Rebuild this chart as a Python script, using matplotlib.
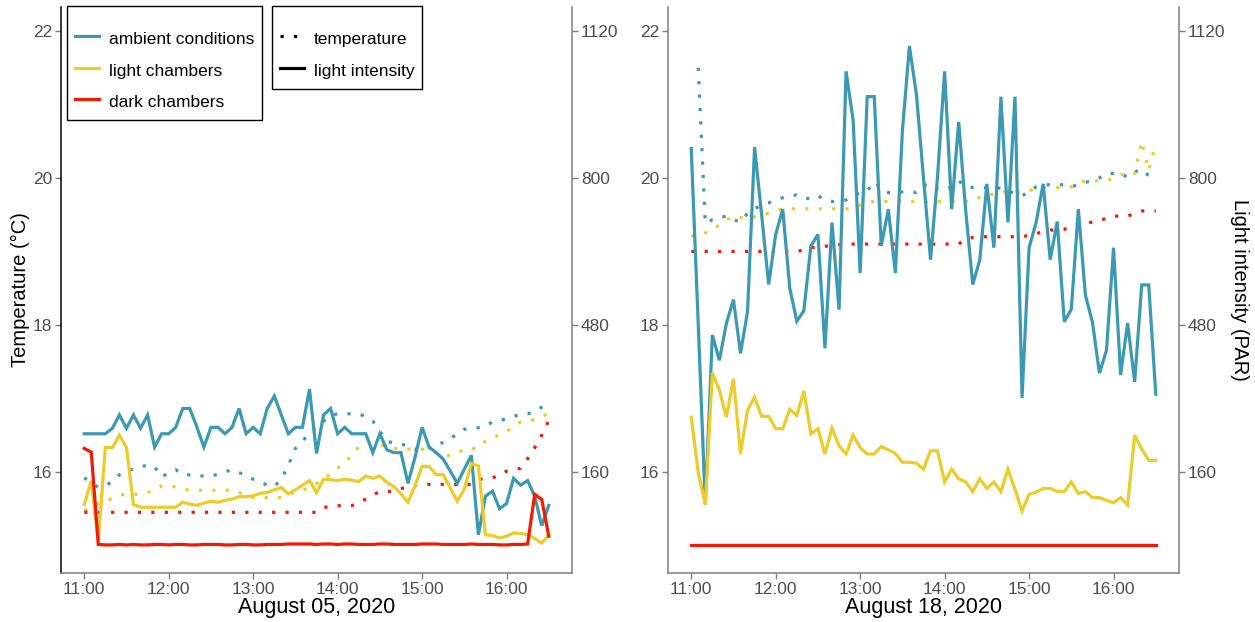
#!/usr/bin/env python3
"""
plot.py -- chamber temperature (dotted) and light intensity (solid)
for two field days, one panel per day, with a secondary PAR axis.
"""

import numpy as np
import pandas as pd
import matplotlib
matplotlib.use('Agg')
import matplotlib.pyplot as plt
import matplotlib.dates as mdates
from matplotlib.lines import Line2D

# -- visual theme -------------------------------------------------------------
AMBIENT_C  = '#3B9AB2'   # teal
LIGHT_C    = '#EBCC2A'   # yellow
DARK_C     = '#F21A00'   # red
AXIS_GREY  = '#7F7F7F'
TICK_TEXT  = '#4D4D4D'
DOTTED     = (0, (1, 3.2))
LW         = 2.3
W, H       = 1255, 622
# -----------------------------------------------------------------------------

plt.rcParams['font.family'] = ['Liberation Sans', 'DejaVu Sans']

# -- data ---------------------------------------------------------------------
DAY1 = "2020-08-05"
DAY2 = "2020-08-18"
START, END, STEP = "11:00", "16:30", "5min"

SERIES = ["ambient conditions", "light chambers", "dark chambers"]

# August 05 -- light intensity (PAR)
d1_par_ambient = [243, 243, 243, 243, 255, 284, 255, 284, 255, 284,
                  214, 243, 243, 257, 298, 298, 258, 214, 257, 257,
                  243, 257, 298, 243, 257, 243, 298, 325, 284, 243,
                  257, 257, 340, 200, 284, 298, 243, 257, 243, 243,
                  243, 202, 243, 208, 202, 202, 135, 192, 257, 214,
                  202, 188, 162, 135, 166, 196, 23, 107, 118, 80,
                  91, 146, 131, 141, 107, 43, 87]
d1_par_light = [89, 140, 10, 213, 213, 240, 213, 89, 83, 83,
                83, 83, 83, 83, 94, 90, 87, 92, 96, 94,
                98, 101, 106, 106, 108, 113, 115, 121, 126, 112,
                121, 131, 141, 115, 144, 143, 141, 144, 142, 139,
                151, 146, 151, 137, 128, 112, 94, 130, 172, 172,
                154, 154, 125, 96, 123, 178, 173, 23, 21, 16,
                20, 27, 26, 23, 15, 5, 23]
d1_par_dark = [211, 203, 2, 1, 1, 2, 1, 2, 1, 1,
               2, 2, 1, 2, 2, 1, 1, 2, 2, 2,
               1, 1, 2, 2, 1, 1, 2, 2, 2, 3,
               3, 3, 3, 2, 3, 3, 2, 3, 3, 2,
               2, 2, 3, 3, 2, 2, 2, 2, 3, 3,
               3, 2, 2, 2, 2, 3, 2, 2, 2, 1,
               1, 2, 2, 3, 111, 100, 20]

# August 05 -- temperature (deg C)
d1_temp_ambient = [15.92, 15.85, 15.79, 15.81, 15.87, 15.96, 16.01, 16.04, 16.07, 16.09,
                   16.07, 15.93, 15.99, 16.03, 15.96, 15.96, 15.96, 15.94, 15.94, 15.97,
                   16.00, 16.03, 15.99, 15.95, 15.90, 15.86, 15.82, 15.80, 15.90, 16.09,
                   16.32, 16.42, 16.52, 16.62, 16.69, 16.77, 16.79, 16.79, 16.79, 16.79,
                   16.75, 16.69, 16.55, 16.42, 16.39, 16.38, 16.35, 16.31, 16.31, 16.33,
                   16.37, 16.40, 16.45, 16.52, 16.58, 16.60, 16.60, 16.62, 16.68, 16.70,
                   16.72, 16.75, 16.79, 16.79, 16.82, 16.88, 16.90]
d1_temp_light = [15.47, 15.52, 15.57, 15.60, 15.64, 15.68, 15.70, 15.70, 15.69, 15.72,
                 15.75, 15.81, 15.82, 15.79, 15.77, 15.75, 15.75, 15.75, 15.75, 15.75,
                 15.75, 15.75, 15.72, 15.68, 15.65, 15.65, 15.65, 15.65, 15.65, 15.69,
                 15.73, 15.75, 15.79, 15.84, 15.90, 15.97, 16.05, 16.12, 16.23, 16.34,
                 16.38, 16.39, 16.37, 16.34, 16.32, 16.31, 16.31, 16.31, 16.31, 16.29,
                 16.26, 16.24, 16.22, 16.25, 16.31, 16.31, 16.33, 16.42, 16.47, 16.50,
                 16.55, 16.61, 16.68, 16.70, 16.71, 16.76, 16.79]
d1_temp_dark = [15.45, 15.45, 15.45, 15.45, 15.45, 15.45, 15.45, 15.45, 15.45, 15.45,
                15.45, 15.45, 15.45, 15.45, 15.45, 15.45, 15.45, 15.45, 15.45, 15.45,
                15.45, 15.45, 15.45, 15.45, 15.45, 15.45, 15.45, 15.45, 15.45, 15.45,
                15.45, 15.45, 15.45, 15.45, 15.51, 15.54, 15.54, 15.54, 15.54, 15.58,
                15.63, 15.69, 15.73, 15.73, 15.74, 15.77, 15.80, 15.82, 15.83, 15.83,
                15.83, 15.83, 15.83, 15.83, 15.83, 15.83, 15.89, 15.92, 15.92, 15.95,
                16.01, 16.03, 16.05, 16.18, 16.33, 16.50, 16.70]

# August 18 -- light intensity (PAR)
d2_par_ambient = [864, 480, 89, 458, 403, 484, 535, 418, 509, 867,
                  720, 568, 677, 732, 560, 488, 511, 652, 677, 429,
                  703, 513, 1032, 926, 593, 977, 977, 652, 732, 593,
                  902, 1087, 981, 800, 622, 804, 1032, 732, 922, 728,
                  568, 622, 787, 648, 977, 703, 977, 321, 648, 703,
                  787, 622, 705, 487, 514, 732, 545, 486, 375, 425,
                  648, 371, 484, 356, 567, 567, 329]
d2_par_light = [279, 159, 89, 376, 338, 279, 363, 199, 294, 323,
                281, 281, 254, 254, 296, 283, 336, 243, 254, 199,
                255, 217, 199, 240, 213, 199, 199, 215, 208, 200,
                181, 181, 179, 166, 206, 206, 138, 166, 145, 138,
                117, 145, 124, 138, 117, 166, 122, 75, 111, 116,
                124, 124, 117, 117, 138, 113, 117, 104, 104, 98,
                93, 104, 88, 240, 210, 185, 185]
d2_par_dark = [0, 0, 0, 0, 0, 0, 0, 0, 0, 0,
               0, 0, 0, 0, 0, 0, 0, 0, 0, 0,
               0, 0, 0, 0, 0, 0, 0, 0, 0, 0,
               0, 0, 0, 0, 0, 0, 0, 0, 0, 0,
               0, 0, 0, 0, 0, 0, 0, 0, 0, 0,
               0, 0, 0, 0, 0, 0, 0, 0, 0, 0,
               0, 0, 0, 0, 0, 0, 0]

# August 18 -- temperature (deg C); ambient logger starts at 11:05
d2_temp_ambient = [np.nan, 21.50, 19.38, 19.43, 19.46, 19.48, 19.43, 19.40, 19.52, 19.58,
                   19.63, 19.66, 19.70, 19.73, 19.75, 19.77, 19.72, 19.72, 19.76, 19.70,
                   19.68, 19.68, 19.70, 19.77, 19.79, 19.82, 19.95, 19.85, 19.80, 19.79,
                   19.81, 19.82, 19.80, 19.90, 19.92, 19.85, 19.84, 19.88, 19.96, 19.88,
                   19.87, 19.86, 19.87, 19.87, 19.86, 19.83, 19.78, 19.76, 19.80, 19.88,
                   19.90, 19.91, 19.92, 19.90, 19.88, 19.91, 19.94, 19.96, 20.00, 20.06,
                   20.06, 20.06, 20.01, 20.08, 20.12, 20.03, 20.00]
d2_temp_light = [19.21, 19.22, 19.25, 19.29, 19.36, 19.43, 19.48, 19.46, 19.45, 19.47,
                 19.50, 19.52, 19.55, 19.58, 19.58, 19.58, 19.58, 19.58, 19.58, 19.58,
                 19.58, 19.58, 19.58, 19.58, 19.63, 19.66, 19.68, 19.68, 19.68, 19.68,
                 19.68, 19.68, 19.68, 19.68, 19.68, 19.68, 19.68, 19.68, 19.68, 19.68,
                 19.68, 19.74, 19.76, 19.78, 19.80, 19.82, 19.80, 19.81, 19.83, 19.85,
                 19.87, 19.87, 19.87, 19.87, 19.88, 19.94, 19.96, 19.96, 19.96, 19.96,
                 20.00, 20.05, 20.03, 20.06, 20.50, 20.10, 20.47]
d2_temp_dark = [19.00, 19.00, 19.00, 19.00, 19.00, 19.00, 19.00, 19.00, 19.00, 19.00,
                19.00, 19.00, 19.00, 19.00, 19.00, 19.00, 19.02, 19.05, 19.06, 19.07,
                19.08, 19.09, 19.10, 19.10, 19.10, 19.10, 19.10, 19.10, 19.10, 19.10,
                19.10, 19.10, 19.10, 19.10, 19.10, 19.10, 19.10, 19.10, 19.10, 19.17,
                19.19, 19.20, 19.20, 19.20, 19.20, 19.20, 19.20, 19.20, 19.22, 19.24,
                19.27, 19.29, 19.29, 19.30, 19.35, 19.37, 19.38, 19.40, 19.42, 19.45,
                19.48, 19.48, 19.48, 19.52, 19.55, 19.55, 19.55]

TEMP_TICKS = [16, 18, 20, 22]
PAR_TICKS = [160, 480, 800, 1120]
# -----------------------------------------------------------------------------

TEMP_LIM = (14.62, 22.33)
PAR_PER_DEG, PAR_ZERO_T = 160, 15      # secondary axis: PAR = (T - 15) * 160


def _times(day):
    return pd.date_range(f"{day} {START}", f"{day} {END}", freq=STEP)


def draw_panel(fig, rect, day, temps, pars, left_label=False, right_label=False,
               left_spine='black'):
    t = _times(day)
    ax = fig.add_axes(rect)
    ax2 = ax.twinx()
    ax.set_zorder(1)
    ax2.set_zorder(2)
    ax.patch.set_visible(False)
    ax2.patch.set_visible(False)

    colors = [AMBIENT_C, LIGHT_C, DARK_C]
    for vals, c in zip(temps, colors):
        ax.plot(t, vals, color=c, lw=LW, linestyle=DOTTED, dash_capstyle='butt')
    for vals, c in zip(pars, colors):
        ax2.plot(t, vals, color=c, lw=LW, solid_joinstyle='miter')

    pad = pd.Timedelta(minutes=16.5)
    ax.set_xlim(t[0] - pad, t[-1] + pad)
    ax.set_ylim(*TEMP_LIM)
    ax2.set_ylim((TEMP_LIM[0] - PAR_ZERO_T) * PAR_PER_DEG,
                 (TEMP_LIM[1] - PAR_ZERO_T) * PAR_PER_DEG)
    ax.set_yticks(TEMP_TICKS)
    ax2.set_yticks(PAR_TICKS)
    ax.xaxis.set_major_locator(mdates.HourLocator(byhour=range(11, 17)))
    ax.xaxis.set_major_formatter(mdates.DateFormatter('%H:%M'))

    for a in (ax, ax2):
        a.spines['top'].set_visible(False)
        a.tick_params(length=4, width=1, color=AXIS_GREY, labelsize=12.5,
                      labelcolor=TICK_TEXT, pad=2.5)
    ax.spines['right'].set_visible(False)
    ax2.spines['left'].set_visible(False)
    ax2.spines['bottom'].set_visible(False)
    ax.spines['left'].set_color(left_spine)
    ax.spines['bottom'].set_color(AXIS_GREY)
    ax2.spines['right'].set_color(AXIS_GREY)
    for s in ('left', 'bottom'):
        ax.spines[s].set_linewidth(1.1)
    ax2.spines['right'].set_linewidth(1.1)

    ax.set_xlabel(t[0].strftime('%B %d, %Y'), fontsize=15.5, labelpad=0)
    if left_label:
        ax.set_ylabel('Temperature (°C)', fontsize=14.5, labelpad=2)
    if right_label:
        ax2.set_ylabel('Light intensity (PAR)', fontsize=14.5, rotation=270,
                       labelpad=17)
    return ax, ax2


def main():
    fig = plt.figure(figsize=(W / 100, H / 100), dpi=100)
    fig.patch.set_facecolor('white')

    top, bottom = 6.7, 573.3
    pw = 511
    r1 = [61 / W, (H - bottom) / H, pw / W, (bottom - top) / H]
    r2 = [668 / W, (H - bottom) / H, pw / W, (bottom - top) / H]

    draw_panel(fig, r1, DAY1,
               [d1_temp_ambient, d1_temp_light, d1_temp_dark],
               [d1_par_ambient, d1_par_light, d1_par_dark],
               left_label=True, left_spine='black')
    draw_panel(fig, r2, DAY2,
               [d2_temp_ambient, d2_temp_light, d2_temp_dark],
               [d2_par_ambient, d2_par_light, d2_par_dark],
               right_label=True, left_spine=AXIS_GREY)

    # -- legends (colour = site, linetype = variable) --
    # a tiny blank title gives the extra top space of the reference boxes
    common = dict(loc='upper left', frameon=True, fancybox=False,
                  edgecolor='black', fontsize=12.5, handlelength=1.4,
                  handleheight=1.5, handletextpad=0.57, labelspacing=0.6,
                  borderpad=0.45, borderaxespad=0, title=' ', title_fontsize=2.5)
    h1 = [Line2D([], [], color=c, lw=LW) for c in (AMBIENT_C, LIGHT_C, DARK_C)]
    lg1 = fig.legend(h1, SERIES, bbox_to_anchor=(67 / W, 1 - 5.7 / H), **common)
    h2 = [Line2D([], [], color='black', lw=LW, linestyle=DOTTED,
                 dash_capstyle='butt'),
          Line2D([], [], color='black', lw=LW)]
    lg2 = fig.legend(h2, ['temperature', 'light intensity'],
                     bbox_to_anchor=(272 / W, 1 - 5.7 / H), **common)
    for lg in (lg1, lg2):
        lg.get_frame().set_linewidth(1.0)
        lg.get_frame().set_alpha(1)

    fig.savefig('out.png', dpi=100, facecolor='white')
    plt.close(fig)


if __name__ == "__main__":
    main()
